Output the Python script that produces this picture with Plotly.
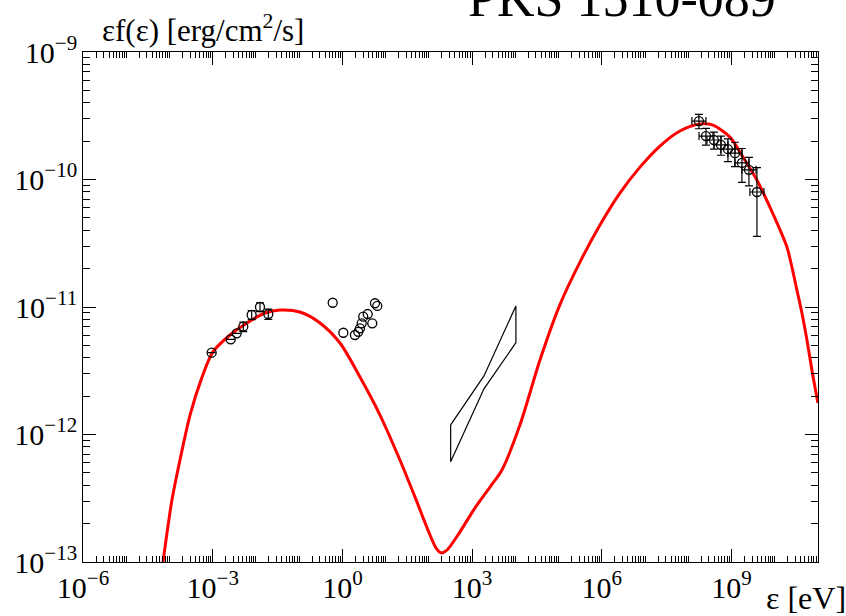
import plotly.graph_objects as go

# ---------------- data ----------------
# model SED curve (energy in eV, flux in erg/cm^2/s)
model_energy = [7.08e-5, 8.32e-5, 1.14e-4, 1.75e-4, 2.99e-4, 5.36e-4, 1.01e-3, 2.51e-3,
                6.21e-3, 1.62e-2, 3.60e-2, 0.104, 0.303, 0.879, 2.55, 7.40, 21.4, 47.6,
                95.3, 146, 191, 262, 471, 1160, 2590, 4900, 1.28e4, 3.71e4, 1.07e5,
                3.12e5, 9.06e5, 2.62e6, 7.62e6, 2.21e7, 6.41e7, 1.86e8, 3.72e8, 9.18e8,
                1.84e9, 3.86e9, 7.73e9, 1.18e10, 1.91e10, 2.49e10, 3.25e10, 4.25e10,
                5.55e10, 7.22e10, 9.95e10]
model_flux = [1.0e-13, 1.49e-13, 3.06e-13, 6.31e-13, 1.42e-12, 2.67e-12, 4.44e-12, 6.03e-12,
              7.50e-12, 8.97e-12, 9.46e-12, 9.14e-12, 7.50e-12, 5.22e-12, 2.82e-12, 1.42e-12,
              6.31e-13, 3.24e-13, 1.78e-13, 1.29e-13, 1.18e-13, 1.24e-13, 1.63e-13, 2.65e-13,
              3.87e-13, 5.27e-13, 1.19e-12, 3.84e-12, 1.04e-11, 2.25e-11, 4.40e-11, 7.83e-11,
              1.25e-10, 1.83e-10, 2.40e-10, 2.72e-10, 2.67e-10, 2.15e-10, 1.50e-10, 9.91e-11,
              6.08e-11, 4.40e-11, 2.96e-11, 2.06e-11, 1.36e-11, 8.97e-12, 5.51e-12, 3.21e-12,
              1.77e-12]

# radio / mm points
radio_energy = [9.46e-4, 2.61e-3, 3.59e-3, 5.10e-3, 7.97e-3, 1.24e-2, 1.93e-2]
radio_flux = [4.38e-12, 5.58e-12, 6.22e-12, 7.02e-12, 8.66e-12, 1.00e-11, 8.81e-12]
radio_flux_err = [0, 0, 0, 6e-13, 7e-13, 8e-13, 8e-13]

# IR / optical points
opt_energy = [0.596, 1.05, 1.95, 2.33, 2.55, 2.79, 3.03, 3.84, 4.90, 5.66, 6.40]
opt_flux = [1.08e-11, 6.28e-12, 6.03e-12, 6.39e-12, 6.80e-12, 7.45e-12, 8.39e-12,
            8.81e-12, 7.45e-12, 1.07e-11, 1.02e-11]

# X-ray bowtie (closed outline)
bowtie_energy = [319, 1880, 1.03e4, 1.03e4, 1880, 319, 319]
bowtie_flux = [1.19e-12, 2.88e-12, 1.02e-11, 5.25e-12, 2.28e-12, 6.12e-13, 1.19e-12]

# gamma-ray points
gamma_energy = [1.76e8, 2.56e8, 3.92e8, 5.69e8, 8.26e8, 1.20e9, 1.74e9, 2.53e9, 3.87e9]
gamma_energy_lo = [1.21e8, 1.77e8, 2.70e8, 3.92e8, 5.69e8, 8.26e8, 1.20e9, 1.74e9, 2.66e9]
gamma_energy_hi = [2.56e8, 3.72e8, 5.69e8, 8.26e8, 1.20e9, 1.74e9, 2.53e9, 3.68e9, 5.62e9]
gamma_flux = [2.87e-10, 2.19e-10, 2.04e-10, 1.87e-10, 1.73e-10, 1.61e-10, 1.35e-10,
              1.19e-10, 7.98e-11]
gamma_flux_err = [3.7e-11, 3.3e-11, 3.1e-11, 3.2e-11, 3.5e-11, 3.5e-11, 4.0e-11,
                  3.0e-11, 4.4e-11]

# ---------------- figure ----------------
FONT = "Liberation Serif"
fig = go.Figure()

fig.add_trace(go.Scatter(x=bowtie_energy, y=bowtie_flux, mode="lines",
                         line=dict(color="black", width=1.2), hoverinfo="skip"))

fig.add_trace(go.Scatter(x=model_energy, y=model_flux, mode="lines",
                         line=dict(color="#ff0000", width=3, shape="spline", smoothing=0.8)))

marker = dict(symbol="circle-open", size=9, color="black", line=dict(width=1.3, color="black"))

fig.add_trace(go.Scatter(x=radio_energy, y=radio_flux, mode="markers", marker=marker,
                         error_y=dict(type="data", array=radio_flux_err, color="black",
                                      thickness=1.2, width=4)))
fig.add_trace(go.Scatter(x=opt_energy, y=opt_flux, mode="markers", marker=marker))

fig.add_trace(go.Scatter(
    x=gamma_energy, y=gamma_flux, mode="markers", marker=marker,
    error_y=dict(type="data", array=gamma_flux_err, color="black", thickness=1.2, width=4),
    error_x=dict(type="data", symmetric=False,
                 array=[h - e for h, e in zip(gamma_energy_hi, gamma_energy)],
                 arrayminus=[e - l for e, l in zip(gamma_energy, gamma_energy_lo)],
                 color="black", thickness=1.2, width=4)))

hidden_title = dict(text=".", font=dict(size=1, color="rgba(0,0,0,0)"))
common = dict(type="log", showline=True, linecolor="black", linewidth=1,
              showgrid=False, zeroline=False, ticks="inside", tickcolor="black",
              tickwidth=1.2, mirror="allticks", exponentformat="power",
              labelalias={"1": "10<sup>0</sup>"}, automargin=False,
              tickfont=dict(family=FONT, size=24, color="black"),
              title=hidden_title)

fig.update_layout(
    xaxis=dict(common, range=[-6, 11], dtick=3, ticklen=13,
               minor=dict(dtick="D1", ticks="inside", ticklen=6, tickwidth=1,
                          tickcolor="black", showgrid=False)),
    yaxis=dict(common, range=[-13, -9], dtick=1, ticklen=13,
               minor=dict(dtick="D1", ticks="inside", ticklen=7, tickwidth=1,
                          tickcolor="black", showgrid=False)),
)

fig.update_layout(
    width=846, height=616,
    margin=dict(l=83, r=28, t=52, b=54),
    paper_bgcolor="white", plot_bgcolor="white",
    showlegend=False,
    annotations=[
        dict(text="PKS 1510-089", xref="paper", yref="paper", x=0.733, y=1,
             xanchor="center", yanchor="bottom", yshift=23, showarrow=False,
             font=dict(family=FONT, size=52, color="black")),
        dict(text="εf(ε) [erg/cm<sup>2</sup>/s]", xref="paper", yref="paper",
             x=0.023, y=1, xanchor="left", yanchor="bottom", yshift=2, showarrow=False,
             font=dict(family=FONT, size=31, color="black")),
        dict(text="ε [eV]", xref="paper", yref="paper", x=0.927, y=0,
             xanchor="left", yanchor="top", yshift=-16, showarrow=False,
             font=dict(family=FONT, size=32, color="black")),
    ],
)

fig.write_html("out.html")
